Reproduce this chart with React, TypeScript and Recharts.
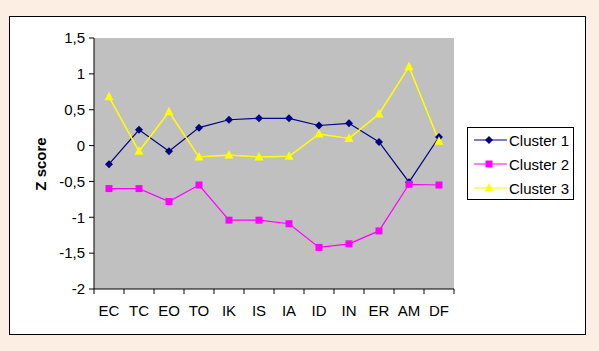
import React from 'react';
import {
  ComposedChart,
  Line,
  XAxis,
  YAxis,
  CartesianGrid,
  Legend,
} from 'recharts';

const categories = ['EC', 'TC', 'EO', 'TO', 'IK', 'IS', 'IA', 'ID', 'IN', 'ER', 'AM', 'DF'];
const cluster1 = [-0.26, 0.22, -0.08, 0.25, 0.36, 0.38, 0.38, 0.28, 0.31, 0.05, -0.51, 0.12];
const cluster2 = [-0.6, -0.6, -0.78, -0.55, -1.04, -1.04, -1.09, -1.42, -1.37, -1.19, -0.54, -0.55];
const cluster3 = [0.68, -0.08, 0.47, -0.16, -0.13, -0.16, -0.15, 0.16, 0.1, 0.44, 1.1, 0.06];
const yTicks = [-2, -1.5, -1, -0.5, 0, 0.5, 1, 1.5];

const data = categories.map((cat, i) => ({
  cat,
  c1: cluster1[i],
  c2: cluster2[i],
  c3: cluster3[i],
}));

const FONT = '"Liberation Sans", Arial, sans-serif';
const NAVY = '#000080';
const MAGENTA = '#FF00FF';
const YELLOW = '#FFFF00';
const BAND = 30;

const Diamond = ({ cx, cy, fill }: any) => {
  if (cx == null || cy == null) return null;
  const r = 4;
  return <polygon points={`${cx},${cy - r} ${cx + r},${cy} ${cx},${cy + r} ${cx - r},${cy}`} fill={fill} />;
};

const Square = ({ cx, cy, fill }: any) => {
  if (cx == null || cy == null) return null;
  return <rect x={cx - 3.5} y={cy - 3.5} width={7} height={7} fill={fill} />;
};

const Triangle = ({ cx, cy, fill }: any) => {
  if (cx == null || cy == null) return null;
  return <polygon points={`${cx},${cy - 5} ${cx + 4.5},${cy + 3.5} ${cx - 4.5},${cy + 3.5}`} fill={fill} />;
};

const markers: Record<string, any> = { c1: Diamond, c2: Square, c3: Triangle };

const fmt = (v: number) => String(v).replace('.', ',');

const XTick = (props: any) => {
  const { x, y, payload, index } = props;
  const half = BAND / 2;
  return (
    <g>
      <line x1={x - half} y1={y} x2={x - half} y2={y + 5} stroke="#000" />
      {index === categories.length - 1 && (
        <line x1={x + half} y1={y} x2={x + half} y2={y + 5} stroke="#000" />
      )}
      <text x={x} y={y + 27} textAnchor="middle" fontFamily={FONT} fontSize={15} fill="#000">
        {payload.value}
      </text>
    </g>
  );
};

const renderLegend = (props: any) => {
  const { payload } = props;
  return (
    <div
      style={{
        width: 107,
        height: 73,
        boxSizing: 'border-box',
        border: '1px solid #000',
        background: '#fff',
        fontFamily: FONT,
        fontSize: 15,
      }}
    >
      {payload.map((p: any) => {
        const M = markers[p.dataKey];
        return (
          <div key={p.value} style={{ height: 24, display: 'flex', alignItems: 'center' }}>
            <svg width={41} height={24}>
              <line x1={6} y1={12} x2={39} y2={12} stroke={p.color} strokeWidth={1.2} />
              <M cx={21} cy={12} fill={p.color} />
            </svg>
            <span style={{ color: '#000' }}>{p.value}</span>
          </div>
        );
      })}
    </div>
  );
};

export default function App() {
  return (
    <div style={{ position: 'absolute', left: 0, top: 0, width: 599, height: 351, background: '#FDEEE4' }}>
      <div
        style={{
          position: 'absolute',
          left: 9,
          top: 16,
          width: 577,
          height: 319,
          boxSizing: 'border-box',
          border: '1px solid #000',
          background: '#fff',
        }}
      />
      <div style={{ position: 'absolute', left: 0, top: 0 }}>
        <ComposedChart
          width={599}
          height={351}
          data={data}
          margin={{ top: 38, right: 145, left: 0, bottom: 32 }}
        >
          <CartesianGrid fill="#C0C0C0" horizontal={false} vertical={false} />
          <XAxis
            dataKey="cat"
            height={30}
            padding={{ left: BAND / 2, right: BAND / 2 }}
            tickSize={0}
            tickMargin={0}
            tickLine={false}
            axisLine={{ stroke: '#000' }}
            tick={<XTick />}
            interval={0}
          />
          <XAxis
            xAxisId="top"
            dataKey="cat"
            orientation="top"
            height={0}
            tick={false}
            tickLine={false}
            axisLine={{ stroke: '#808080' }}
          />
          <YAxis
            width={94}
            domain={[-2, 1.5]}
            ticks={yTicks}
            interval={0}
            tickSize={5}
            tickMargin={4}
            tickFormatter={fmt}
            tickLine={{ stroke: '#000' }}
            axisLine={{ stroke: '#000' }}
            tick={{ fontFamily: FONT, fontSize: 15, fill: '#000' }}
            label={() => (
              <text
                x={46}
                y={164}
                transform="rotate(-90 46 164)"
                textAnchor="middle"
                fontFamily={FONT}
                fontSize={15}
                fontWeight="bold"
                fill="#000"
              >
                Z score
              </text>
            )}
          />
          <YAxis
            yAxisId="right"
            orientation="right"
            width={0}
            domain={[-2, 1.5]}
            tick={false}
            tickLine={false}
            axisLine={{ stroke: '#808080' }}
          />
          <Legend
            layout="horizontal"
            verticalAlign="middle"
            align="center"
            content={renderLegend}
            wrapperStyle={{ position: 'absolute', left: 467, top: 127, width: 107, height: 73 }}
          />
          <Line
            dataKey="c1"
            name="Cluster 1"
            stroke={NAVY}
            strokeWidth={1.2}
            dot={<Diamond fill={NAVY} />}
            activeDot={false}
            isAnimationActive={false}
          />
          <Line
            dataKey="c2"
            name="Cluster 2"
            stroke={MAGENTA}
            strokeWidth={1.2}
            dot={<Square fill={MAGENTA} />}
            activeDot={false}
            isAnimationActive={false}
          />
          <Line
            dataKey="c3"
            name="Cluster 3"
            stroke={YELLOW}
            strokeWidth={1.5}
            dot={<Triangle fill={YELLOW} />}
            activeDot={false}
            isAnimationActive={false}
          />
        </ComposedChart>
      </div>
    </div>
  );
}
